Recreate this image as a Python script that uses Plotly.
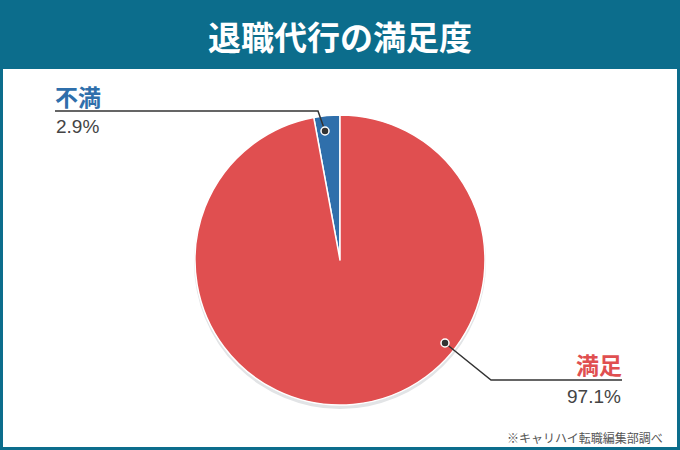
import plotly.graph_objects as go

# ---- data ----
categories = ["不満", "満足"]
values = [2.9, 97.1]
value_labels = ["2.9%", "97.1%"]
colors = ["#2f6fab", "#e04f50"]
title_text = "退職代行の満足度"
source_text = "※キャリハイ転職編集部調べ"

W, H = 680, 450
TEAL = "#0c6d8c"
JP = "Noto Sans CJK JP"

def px(x):
    return x / W

def py(y):
    return 1 - y / H

# pie geometry (pixels)
cx, cy, R = 340, 260, 145

# first slice ends at 12 o'clock
start_rot = -values[0] / sum(values) * 360

fig = go.Figure()
fig.add_trace(go.Pie(
    labels=categories,
    values=values,
    sort=False,
    direction="clockwise",
    rotation=start_rot,
    marker=dict(colors=colors, line=dict(color="white", width=1.5)),
    textinfo="none",
    hoverinfo="label+percent",
    showlegend=False,
    domain=dict(x=[px(cx - R), px(cx + R)], y=[py(cy + R), py(cy - R)]),
))

shapes = [
    # white panel
    dict(type="rect", xref="paper", yref="paper", x0=px(3), x1=px(677), y0=py(447), y1=py(69),
         fillcolor="white", line=dict(width=0), layer="below"),
    # soft shadow under pie
    dict(type="circle", xref="paper", yref="paper",
         x0=px(cx - R - 1), x1=px(cx + R + 1), y0=py(cy + R + 4), y1=py(cy - R + 1),
         fillcolor="#e2e4e6", line=dict(width=0), layer="below"),
    # leader line 不満
    dict(type="path", xref="paper", yref="paper",
         path=f"M {px(55)},{py(111)} L {px(318)},{py(111)} L {px(325)},{py(131)}",
         line=dict(color="#333333", width=1.5)),
    # leader line 満足
    dict(type="path", xref="paper", yref="paper",
         path=f"M {px(445)},{py(343)} L {px(491)},{py(380)} L {px(622)},{py(380)}",
         line=dict(color="#333333", width=1.5)),
]
# dots
for (dx, dy) in [(325, 131), (445, 343)]:
    shapes.append(dict(type="circle", xref="paper", yref="paper",
                       x0=px(dx - 4), x1=px(dx + 4), y0=py(dy + 4), y1=py(dy - 4),
                       fillcolor="#333333", line=dict(color="white", width=1.5)))

annotations = [
    dict(text=f"<b>{title_text}</b>", x=px(340), y=py(36), xref="paper", yref="paper",
         showarrow=False, font=dict(family=JP, size=33, color="white"), xanchor="center", yanchor="middle"),
    dict(text=f"<b>{categories[0]}</b>", x=px(53), y=py(96), xref="paper", yref="paper",
         showarrow=False, font=dict(family=JP, size=23, color=colors[0]), xanchor="left", yanchor="middle"),
    dict(text=value_labels[0], x=px(54), y=py(126), xref="paper", yref="paper",
         showarrow=False, font=dict(family="Liberation Sans", size=19, color="#444444"), xanchor="left", yanchor="middle"),
    dict(text=f"<b>{categories[1]}</b>", x=px(624), y=py(364), xref="paper", yref="paper",
         showarrow=False, font=dict(family=JP, size=23, color=colors[1]), xanchor="right", yanchor="middle"),
    dict(text=value_labels[1], x=px(623), y=py(396), xref="paper", yref="paper",
         showarrow=False, font=dict(family="Liberation Sans", size=19, color="#444444"), xanchor="right", yanchor="middle"),
    dict(text=source_text, x=px(665), y=py(437), xref="paper", yref="paper",
         showarrow=False, font=dict(family=JP, size=12, color="#555555"), xanchor="right", yanchor="middle"),
]

fig.update_layout(
    width=W, height=H,
    margin=dict(l=0, r=0, t=0, b=0),
    paper_bgcolor=TEAL,
    plot_bgcolor="white",
    shapes=shapes,
    annotations=annotations,
)

fig.write_html("out.html", config={"displayModeBar": False},
               post_script="document.body.style.margin='0';")
